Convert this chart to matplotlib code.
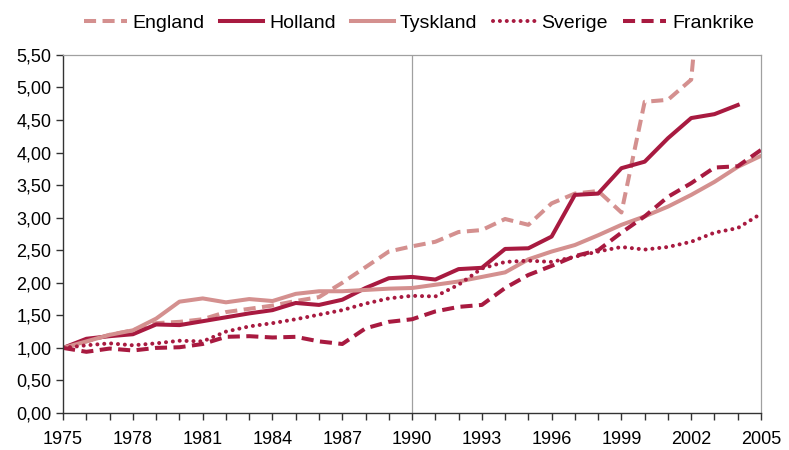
import matplotlib.pyplot as plt
from matplotlib.ticker import MultipleLocator, FuncFormatter

plt.rcParams['font.family'] = ['Liberation Sans', 'DejaVu Sans']

years = list(range(1975, 2006))
xticks = list(range(1975, 2006, 3))

england = [1.00, 1.10, 1.20, 1.27, 1.38, 1.40, 1.44, 1.55, 1.60, 1.65, 1.72, 1.78, 2.00, 2.24, 2.48,
           2.56, 2.63, 2.78, 2.81, 2.98, 2.89, 3.22, 3.37, 3.41, 3.08, 4.78, 4.81, 5.12, 9.00]
holland = [1.00, 1.14, 1.18, 1.21, 1.36, 1.35, 1.41, 1.47, 1.53, 1.58, 1.69, 1.66, 1.74, 1.92, 2.07,
           2.09, 2.05, 2.21, 2.23, 2.52, 2.53, 2.71, 3.35, 3.37, 3.76, 3.86, 4.22, 4.53, 4.59, 4.73]
tyskland = [1.00, 1.10, 1.20, 1.27, 1.45, 1.71, 1.76, 1.70, 1.75, 1.72, 1.83, 1.87, 1.87, 1.89, 1.91,
            1.92, 1.97, 2.02, 2.09, 2.16, 2.36, 2.48, 2.58, 2.73, 2.89, 3.02, 3.17, 3.35, 3.55, 3.78, 3.95]
sverige = [1.00, 1.04, 1.07, 1.04, 1.07, 1.11, 1.10, 1.25, 1.33, 1.38, 1.44, 1.51, 1.58, 1.68, 1.76,
           1.80, 1.79, 1.97, 2.22, 2.32, 2.34, 2.32, 2.40, 2.48, 2.55, 2.51, 2.55, 2.63, 2.77, 2.84, 3.06]
frankrike = [1.00, 0.94, 0.99, 0.96, 1.00, 1.01, 1.06, 1.17, 1.18, 1.16, 1.17, 1.10, 1.06, 1.30, 1.40,
             1.44, 1.56, 1.63, 1.66, 1.92, 2.12, 2.26, 2.41, 2.50, 2.77, 3.02, 3.32, 3.53, 3.77, 3.79, 4.04]

DARK = '#a81a40'
LIGHT = '#d4908f'

fig = plt.figure(figsize=(7.89, 4.5), dpi=100)
ax = fig.add_axes([0.08, 0.0822, 0.8845, 0.7958])

lw = 2.9
dash = (3.0, 1.6)
ax.plot(years[:len(england)], england, color=LIGHT, lw=lw, dashes=dash, label='England')
ax.plot(years[:len(holland)], holland, color=DARK, lw=lw, label='Holland')
ax.plot(years, tyskland, color=LIGHT, lw=lw, label='Tyskland')
ax.plot(years, sverige, color=DARK, lw=lw, dashes=(0.01, 1.7), dash_capstyle='round', label='Sverige')
ax.plot(years, frankrike, color=DARK, lw=lw, dashes=dash, label='Frankrike')

ax.axvline(1990, color='#a0a0a0', lw=0.9, zorder=0)

ax.set_xlim(1975, 2005)
ax.set_ylim(0, 5.5)
ax.set_xticks(xticks)
ax.xaxis.set_minor_locator(MultipleLocator(1))
ax.yaxis.set_major_locator(MultipleLocator(0.5))
ax.yaxis.set_major_formatter(FuncFormatter(lambda v, p: f'{v:.2f}'.replace('.', ',')))

for s in ['top', 'right']:
    ax.spines[s].set_color('#a0a0a0')
    ax.spines[s].set_linewidth(0.9)
for s in ['left', 'bottom']:
    ax.spines[s].set_color('#333333')
    ax.spines[s].set_linewidth(1.0)

ax.tick_params(axis='both', which='major', labelsize=13, direction='out', length=5, width=1, color='#333333')
ax.tick_params(axis='x', which='minor', direction='out', length=5, width=1, color='#333333')
ax.tick_params(axis='x', pad=8)

ax.legend(loc='lower center', bbox_to_anchor=(0.51, 1.0), ncol=5, frameon=False, fontsize=14,
          handlelength=2.2, handletextpad=0.3, columnspacing=0.8, borderaxespad=0.8)

fig.savefig('out.png', dpi=100)
